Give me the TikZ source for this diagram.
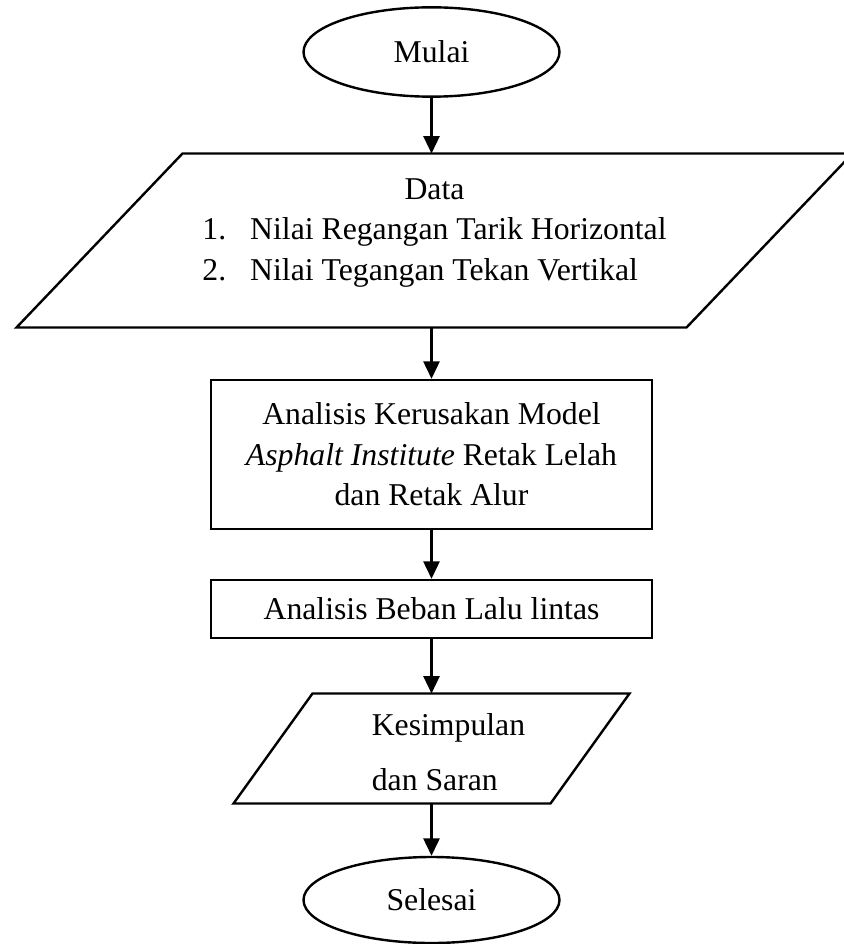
\documentclass[tikz,border=0pt]{standalone}
\usepackage{fontspec}
\setmainfont{Liberation Serif}
\usetikzlibrary{shapes.geometric,arrows.meta}

\tikzset{every picture/.style={line width=0.75pt}}
\tikzset{
  terminal/.style={draw,ellipse,line width=1.8pt,inner sep=0pt},
  process/.style={draw,rectangle,line width=1.8pt,inner sep=0pt,align=center},
  iobody/.style={rectangle,inner sep=0pt},
  ioline/.style={line width=1.8pt,line join=miter},
  flow/.style={-{Triangle[length=13pt,width=12pt]},line width=1.8pt}
}

\begin{document}
\begin{tikzpicture}[x=0.75pt,y=0.75pt,yscale=-1,xscale=1,
  font=\fontsize{23.8}{30.4}\selectfont]
\useasboundingbox (0,0) rectangle (843,944);

%Shape: Ellipse [id:mulai]
\node[terminal,minimum width=192pt,minimum height=67pt] (mulai) at (431.5,52) {Mulai};
%Shape: Parallelogram [id:data]
\node[iobody,minimum width=377.25pt,minimum height=129.75pt] (data) at (434.5,240.5)
  {\begin{tabular}{@{}l@{\hspace{18pt}}l@{}}
   \multicolumn{2}{c}{Data}\\
   1. & Nilai Regangan Tarik Horizontal\\
   2. & Nilai Tegangan Tekan Vertikal\\[13.5pt]
   \end{tabular}};
\draw[ioline] (data.south east) -- ++(-670,0) -- (data.north west) -- ++(670,0) -- cycle;
%Shape: Rectangle [id:analisis]
\node[process,minimum width=330.75pt,minimum height=111.75pt] (analisis) at (431.5,454.5)
  {Analisis Kerusakan Model\\ \textit{Asphalt Institute} Retak Lelah\\ dan Retak Alur};
%Shape: Rectangle [id:beban]
\node[process,minimum width=330.75pt,minimum height=43.5pt] (beban) at (431.5,609)
  {Analisis Beban Lalu lintas};
%Shape: Parallelogram [id:simpulan]
\node[iobody,minimum width=177.75pt,minimum height=81.75pt] (simpulan) at (431.5,748.5)
  {\begin{tabular}{@{\hspace{25.5pt}}l@{}}
   \rule{0pt}{30.3pt}Kesimpulan\\[11pt]
   dan Saran
   \end{tabular}};
\draw[ioline] (simpulan.south east) -- ++(-317,0) -- (simpulan.north west) -- ++(317,0) -- cycle;
%Shape: Ellipse [id:selesai]
\node[terminal,minimum width=192pt,minimum height=64.5pt] (selesai) at (431.5,900) {Selesai};

%Straight Lines
\draw[flow] (mulai.south) -- (mulai.south |- data.north);
\draw[flow] (analisis.north |- data.south) -- (analisis.north);
\draw[flow] (analisis.south) -- (beban.north);
\draw[flow] (beban.south) -- (beban.south |- simpulan.north);
\draw[flow] (selesai.north |- simpulan.south) -- (selesai.north);

\end{tikzpicture}
\end{document}
